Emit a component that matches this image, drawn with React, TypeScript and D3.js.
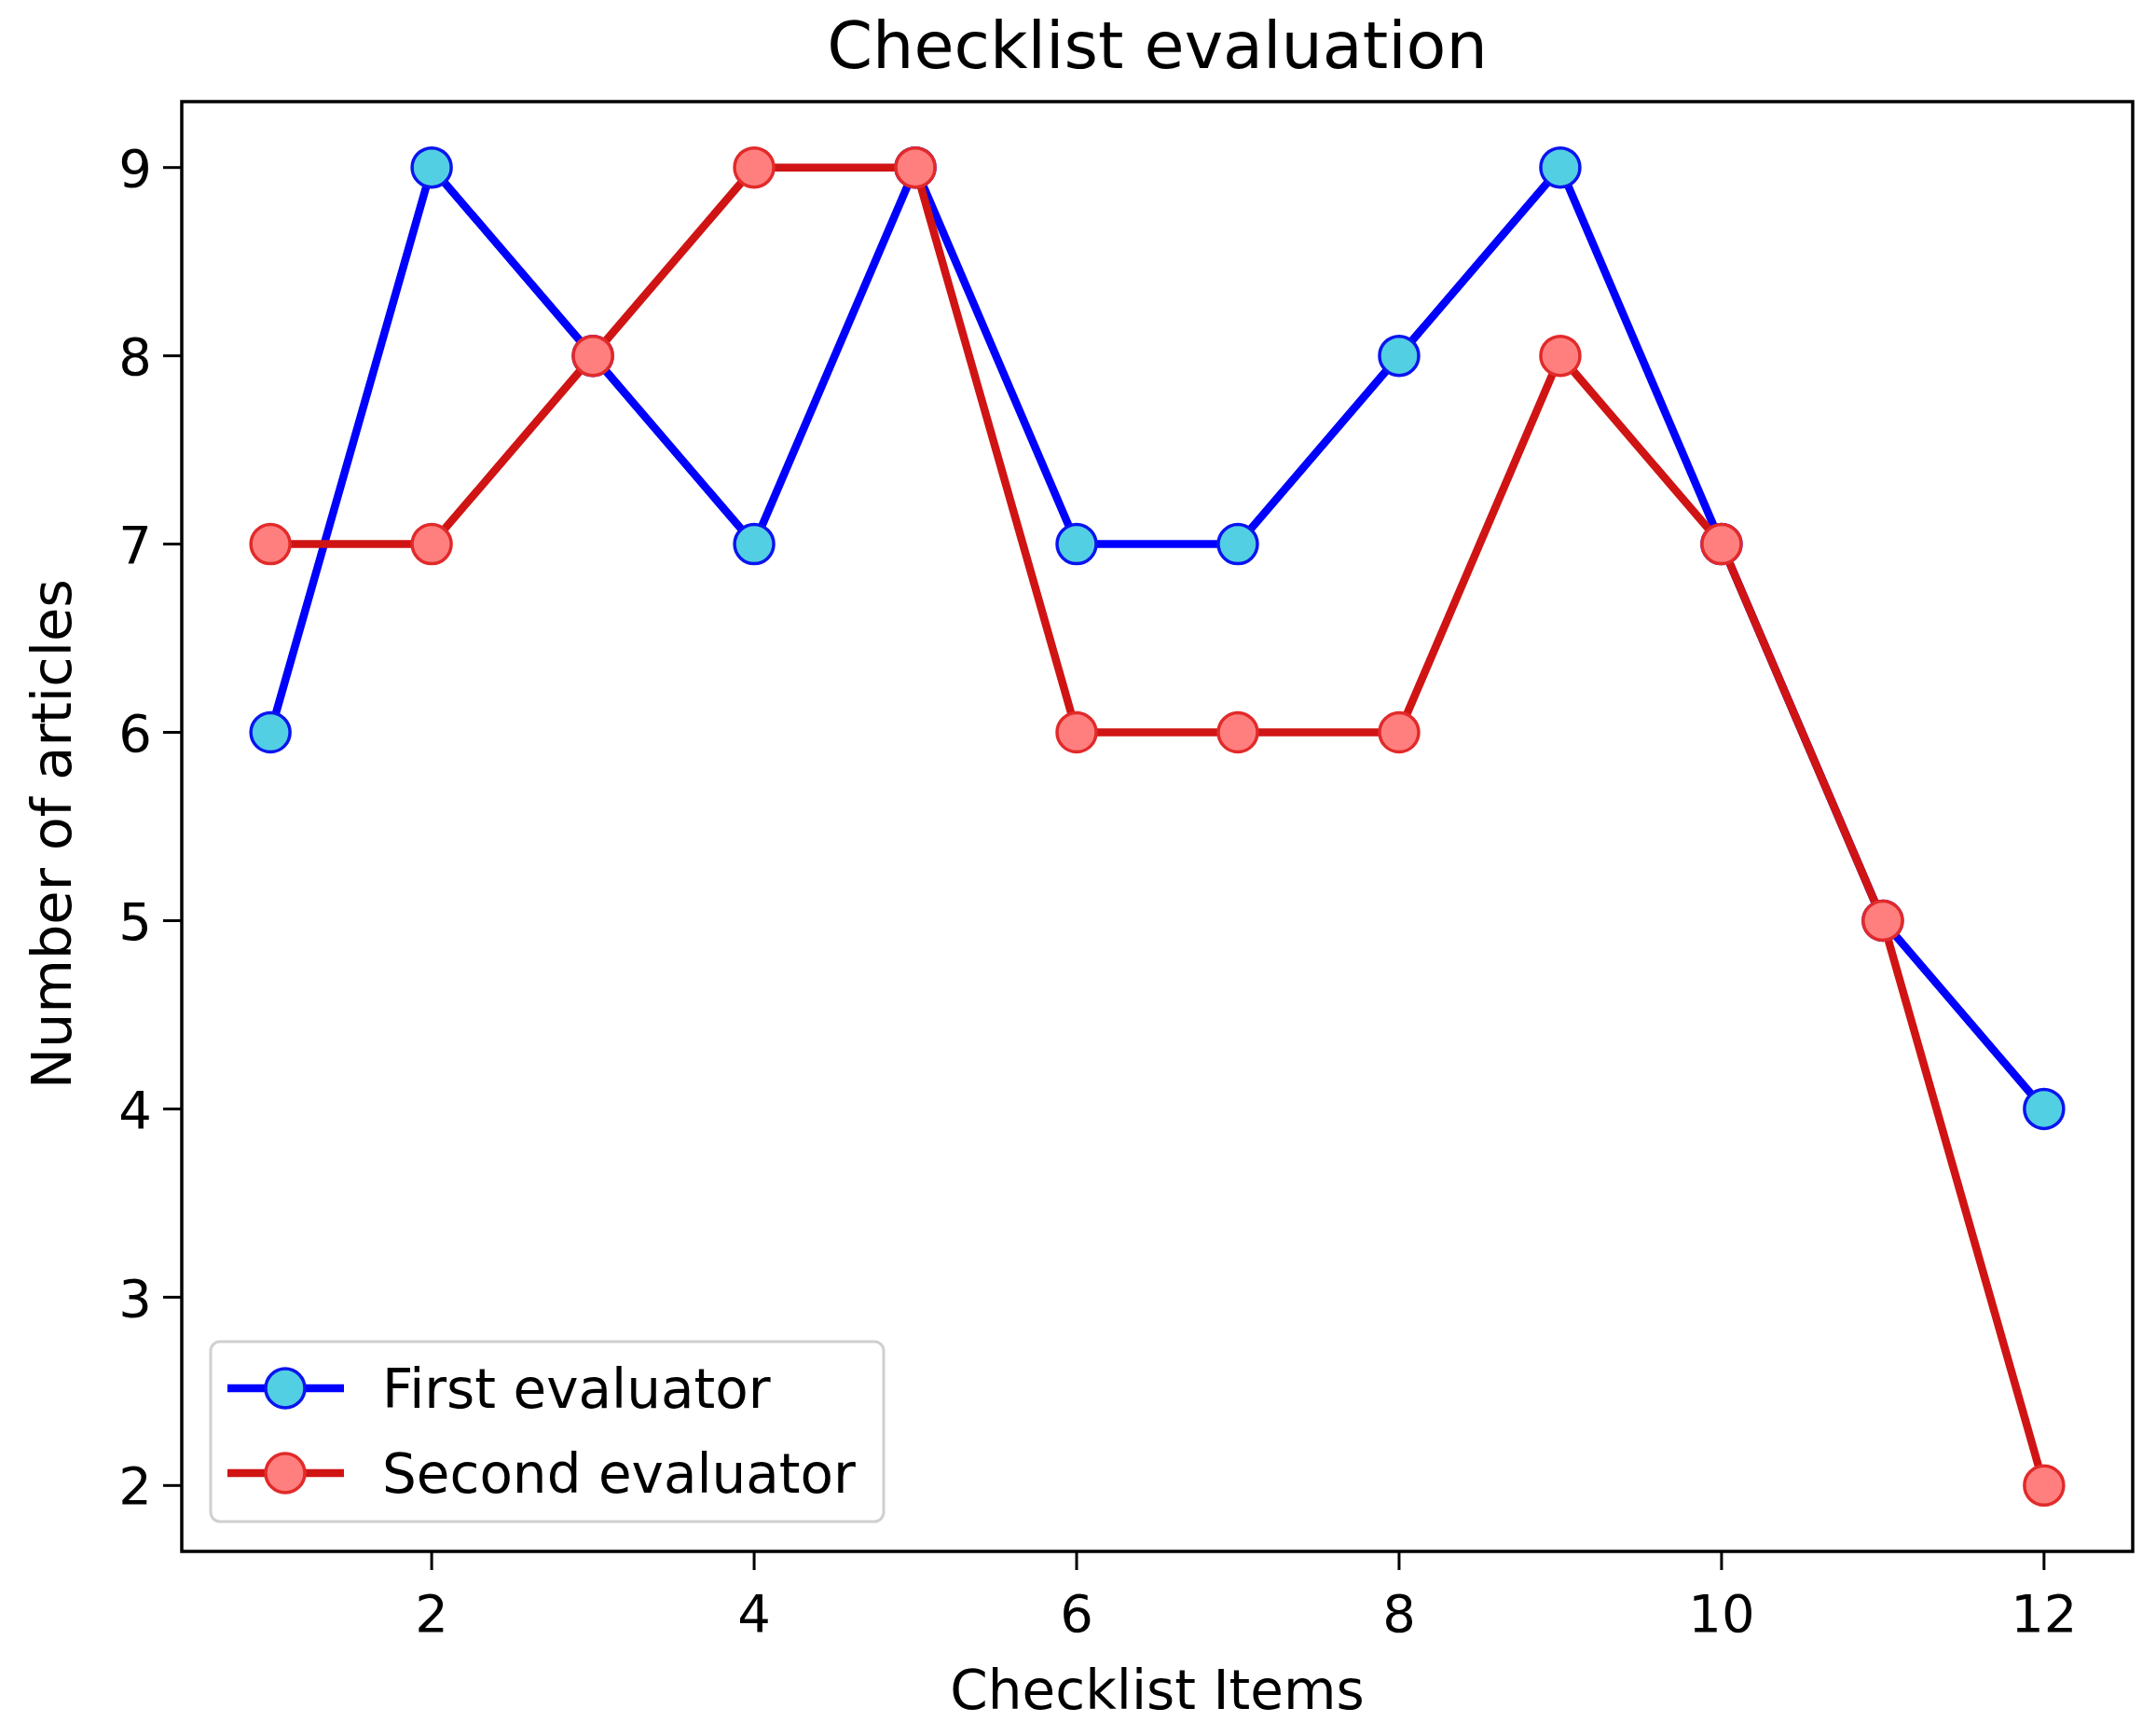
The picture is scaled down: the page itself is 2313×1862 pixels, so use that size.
import React from 'react';
import * as d3 from 'd3';

const items = [1, 2, 3, 4, 5, 6, 7, 8, 9, 10, 11, 12];
const firstEvaluator = [6, 9, 8, 7, 9, 7, 7, 8, 9, 7, 5, 4];
const secondEvaluator = [7, 7, 8, 9, 9, 6, 6, 6, 8, 7, 5, 2];
const xTicks = [2, 4, 6, 8, 10, 12];
const yTicks = [2, 3, 4, 5, 6, 7, 8, 9];

const series = [
    { name: 'First evaluator', values: firstEvaluator, line: '#0000ff', fill: '#52cfe3', edge: '#0a14f0' },
    { name: 'Second evaluator', values: secondEvaluator, line: '#d01414', fill: '#ff7f7f', edge: '#e22a2a' },
];

const width = 2313, height = 1862;
const left = 195, right = 2288, top = 109, bottom = 1664;
const font = '"DejaVu Sans", sans-serif';

const App = () => {
    // matplotlib style 5% margins around the data
    const x = d3.scaleLinear().domain([0.45, 12.55]).range([left, right]);
    const y = d3.scaleLinear().domain([1.65, 9.35]).range([bottom, top]);

    const line = d3.line<number>()
        .x((d, i) => x(items[i]))
        .y(d => y(d));

    return (
        <svg width={width} height={height} style={{ position: 'absolute', left: 0, top: 0, background: '#fff' }}>
            <text x={(left + right) / 2} y={73} textAnchor="middle" fontFamily={font} fontSize={70}>Checklist evaluation</text>

            {series.map(s => (
                <g key={s.name}>
                    <path d={line(s.values) || ''} fill="none" stroke={s.line} strokeWidth={8.5} strokeLinejoin="round" />
                    {s.values.map((v, i) => (
                        <circle key={i} cx={x(items[i])} cy={y(v)} r={21} fill={s.fill} stroke={s.edge} strokeWidth={3.5} />
                    ))}
                </g>
            ))}

            {/* frame */}
            <rect x={left} y={top} width={right - left} height={bottom - top} fill="none" stroke="#000" strokeWidth={3.5} />

            {xTicks.map(t => (
                <g key={t}>
                    <line x1={x(t)} x2={x(t)} y1={bottom} y2={bottom + 20} stroke="#000" strokeWidth={3} />
                    <text x={x(t)} y={1750} textAnchor="middle" fontFamily={font} fontSize={56}>{t}</text>
                </g>
            ))}
            {yTicks.map(t => (
                <g key={t}>
                    <line x1={left - 20} x2={left} y1={y(t)} y2={y(t)} stroke="#000" strokeWidth={3} />
                    <text x={left - 32} y={y(t)} dy="0.36em" textAnchor="end" fontFamily={font} fontSize={56}>{t}</text>
                </g>
            ))}

            <text x={(left + right) / 2} y={1833} textAnchor="middle" fontFamily={font} fontSize={58}>Checklist Items</text>
            <text transform={`translate(76,${(top + bottom) / 2 + 8}) rotate(-90)`} textAnchor="middle" fontFamily={font} fontSize={59}>Number of articles</text>

            {/* legend */}
            <g>
                <rect x={226} y={1439} width={722} height={193} rx={10} fill="#fff" fillOpacity={0.8} stroke="#d0d0d0" strokeWidth={3} />
                {series.map((s, i) => {
                    const ly = 1489 + i * 91;
                    return (
                        <g key={s.name}>
                            <line x1={244} x2={369} y1={ly} y2={ly} stroke={s.line} strokeWidth={8.5} />
                            <circle cx={306} cy={ly} r={21} fill={s.fill} stroke={s.edge} strokeWidth={3.5} />
                            <text x={410} y={ly} dy="0.36em" fontFamily={font} fontSize={58}>{s.name}</text>
                        </g>
                    );
                })}
            </g>
        </svg>
    );
};

export default App;
